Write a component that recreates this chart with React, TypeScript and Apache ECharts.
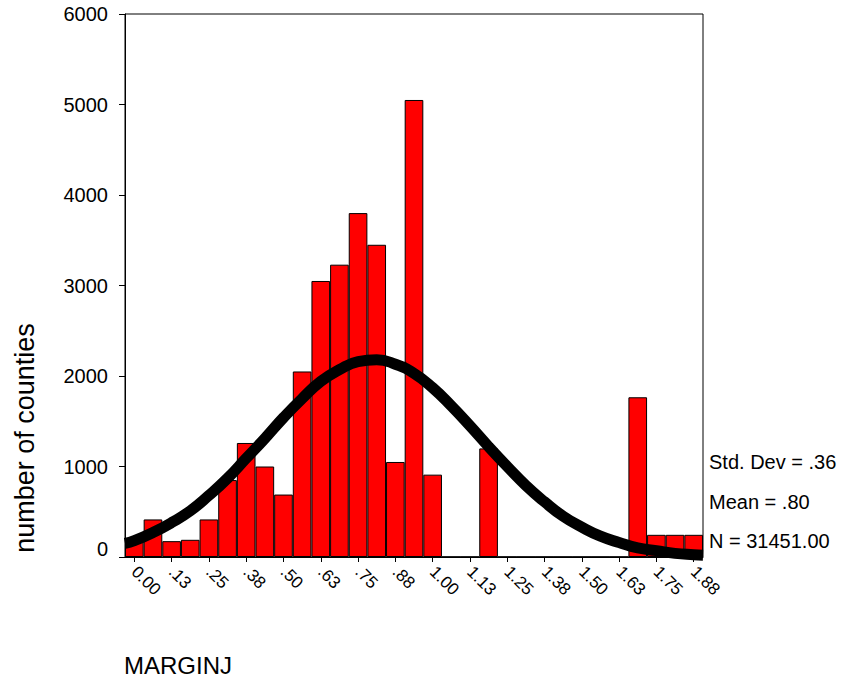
import React, { useEffect, useRef } from "react";
import * as echarts from "echarts";

// Histogram bins (bin width .0625, centres 0.00 .. 1.875)
const binCounts = [
  190, 415, 175, 190, 415, 850, 1260, 1000, 690, 2050, 3050, 3230, 3800, 3450, 1050, 5050,
  910, 0, 0, 1200, 0, 0, 0, 0, 0, 0, 0, 1765, 245, 245, 245,
];
const tickLabels = [
  "0.00", ".13", ".25", ".38", ".50", ".63", ".75", ".88",
  "1.00", "1.13", "1.25", "1.38", "1.50", "1.63", "1.75", "1.88",
];
// Fitted normal curve
const curveX = [
  -0.03125, 0, 0.0625, 0.125, 0.1875, 0.25, 0.3125, 0.375, 0.4375, 0.5, 0.5625, 0.625, 0.6875,
  0.75, 0.8125, 0.875, 0.9375, 1.0, 1.0625, 1.125, 1.1875, 1.25, 1.3125, 1.375, 1.4375, 1.5,
  1.5625, 1.625, 1.6875, 1.75, 1.8125, 1.875, 1.90625,
];
const curveY = [
  150, 180, 270, 380, 510, 680, 870, 1090, 1310, 1540, 1750, 1940, 2070, 2160, 2180, 2130, 2030,
  1870, 1670, 1450, 1220, 1000, 790, 610, 450, 330, 230, 160, 100, 70, 40, 25, 20,
];
const statLines = ["Std. Dev = .36", "Mean = .80", "N = 31451.00"];
const yTicks = { min: 0, max: 6000, interval: 1000 };

const FONT = "Liberation Sans, Arial, sans-serif";

export default function App() {
  const ref = useRef<HTMLDivElement>(null);
  useEffect(() => {
    if (!ref.current) return;
    const chart = echarts.init(ref.current, null, { renderer: "svg" });
    const categories = binCounts.map((_, i) => (i % 2 === 0 ? tickLabels[i / 2] : ""));
    const statY = [462, 502, 541];
    chart.setOption({
      animation: false,
      backgroundColor: "#fff",
      grid: {
        left: 125, top: 14, width: 578, height: 543,
        show: true, borderColor: "#000", borderWidth: 1, backgroundColor: "transparent",
      },
      xAxis: [
        {
          type: "category",
          data: categories,
          boundaryGap: true,
          axisLine: { show: true, onZero: false, lineStyle: { color: "#000", width: 1 } },
          axisTick: { show: true, interval: 1, alignWithLabel: true, length: 5, lineStyle: { color: "#000" } },
          axisLabel: {
            interval: 1, rotate: -45, margin: 12, color: "#000",
            fontSize: 17, fontFamily: FONT,
          },
          splitLine: { show: false },
        },
        {
          type: "value",
          min: curveX[0],
          max: curveX[curveX.length - 1],
          show: false,
          axisLine: { onZero: false },
          splitLine: { show: false },
        },
      ],
      yAxis: {
        type: "value",
        min: yTicks.min, max: yTicks.max, interval: yTicks.interval,
        axisLine: { show: true, onZero: false, lineStyle: { color: "#000", width: 1 } },
        axisTick: { show: true, length: 6, lineStyle: { color: "#000" } },
        axisLabel: {
          color: "#000", fontSize: 20, fontFamily: FONT, margin: 17,
          formatter: (v: number) => (v === 0 ? "{z|0}" : String(v)),
          rich: { z: { fontSize: 20, fontFamily: FONT, color: "#000", padding: [0, 0, 16, 0] } },
        },
        splitLine: { show: false },
      },
      series: [
        {
          type: "bar",
          xAxisIndex: 0,
          data: binCounts,
          barCategoryGap: "0%",
          itemStyle: { color: "#ff0000", borderColor: "#000", borderWidth: 1 },
          z: 2,
        },
        {
          type: "line",
          xAxisIndex: 1,
          data: curveX.map((x, i) => [x, curveY[i]]),
          smooth: true,
          showSymbol: false,
          lineStyle: { color: "#000", width: 11 },
          z: 3,
        },
      ],
      graphic: [
        {
          type: "text", x: 25, y: 438, rotation: Math.PI / 2,
          style: { text: "number of counties", font: `27px ${FONT}`, fill: "#000", align: "center", verticalAlign: "middle" },
        },
        {
          type: "text", x: 124, y: 665,
          style: { text: "MARGINJ", font: `24px ${FONT}`, fill: "#000", align: "left", verticalAlign: "middle" },
        },
        ...statLines.map((t, i) => ({
          type: "text", x: 709, y: statY[i],
          style: { text: t, font: `20px ${FONT}`, fill: "#000", align: "left", verticalAlign: "middle" },
        })),
      ],
    });
    return () => chart.dispose();
  }, []);
  return <div ref={ref} style={{ position: "fixed", left: 0, top: 0, width: 848, height: 683 }} />;
}
